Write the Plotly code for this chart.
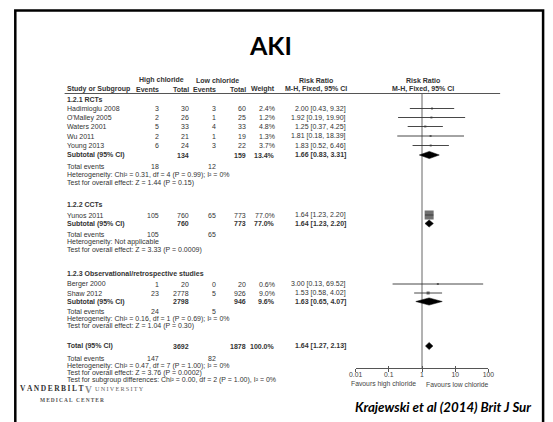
import plotly.graph_objects as go

W, H = 553, 422

# ---- study-level data ----
studies = ["Hadimioglu 2008", "O'Malley 2005", "Waters 2001", "Wu 2011", "Young 2013",
           "Yunos 2011", "Berger 2000", "Shaw 2012"]
study_group = [0, 0, 0, 0, 0, 1, 2, 2]
hi_events = [3, 2, 5, 2, 6, 105, 1, 23]
hi_total = [30, 26, 33, 21, 24, 760, 20, 2778]
lo_events = [3, 1, 4, 1, 3, 65, 0, 5]
lo_total = [60, 25, 33, 19, 22, 773, 20, 926]
weights = [2.4, 1.2, 4.8, 1.3, 3.7, 77.0, 0.6, 9.0]
rr = [2.00, 1.92, 1.25, 1.81, 1.83, 1.64, 3.00, 1.53]
rr_lo = [0.43, 0.19, 0.37, 0.18, 0.52, 1.23, 0.13, 0.58]
rr_hi = [9.32, 19.90, 4.25, 18.39, 6.46, 2.20, 69.52, 4.02]

# ---- subgroup data ----
groups = ["1.2.1 RCTs", "1.2.2 CCTs", "1.2.3 Observational/retrospective studies"]
sub_hi_total = [134, 760, 2798]
sub_lo_total = [159, 773, 946]
sub_weight = [13.4, 77.0, 9.6]
sub_rr = [1.66, 1.64, 1.63]
sub_lo = [0.83, 1.23, 0.65]
sub_hi = [3.31, 2.20, 4.07]
sub_hi_events = [18, 105, 24]
sub_lo_events = [12, 65, 5]
sub_het = ["Heterogeneity: Chi² = 0.31, df = 4 (P = 0.99); I² = 0%",
           "Heterogeneity: Not applicable",
           "Heterogeneity: Chi² = 0.16, df = 1 (P = 0.69); I² = 0%"]
sub_test = ["Test for overall effect: Z = 1.44 (P = 0.15)",
            "Test for overall effect: Z = 3.33 (P = 0.0009)",
            "Test for overall effect: Z = 1.04 (P = 0.30)"]

# ---- overall ----
total_hi_total, total_lo_total = 3692, 1878
total_rr, total_lo, total_hi = 1.64, 1.27, 2.13
total_hi_events, total_lo_events = 147, 82
total_het = "Heterogeneity: Chi² = 0.47, df = 7 (P = 1.00); I² = 0%"
total_test = "Test for overall effect: Z = 3.76 (P = 0.0002)"
subgroup_test = "Test for subgroup differences: Chi² = 0.00, df = 2 (P = 1.00), I² = 0%"

axis_ticks = [0.01, 0.1, 1, 10, 100]
axis_ticktext = ["0.01", "0.1", "1", "10", "100"]

# ---- layout (pixel rows / columns) ----
FONT = "Liberation Sans"
TXT = "#333333"
FS = 7
X_STUDY, X_HE, X_HT, X_LE, X_LT, X_W, X_RR = 59, 158, 188, 216, 247, 276, 349
X_RR_HEAD = 316
AXIS_Y = 368
group_header_y = [99, 204, 274]
study_y = [108.5, 117.5, 126.5, 136, 145.5, 215, 284, 293]
subtotal_y = [155, 223.5, 301.5]
sub_events_y = [166, 234, 311]
sub_het_y = [174.5, 242, 318.5]
sub_test_y = [183, 250, 326]
TOTAL_Y, TOTAL_EV_Y, TOTAL_HET_Y, TOTAL_TEST_Y, SUBGRP_Y = 346, 358, 365.5, 372.5, 379.5

THIN = "\u2009"
ann = []


def txt(x, y, s, anchor="left", bold=False, size=FS, color=TXT, family=FONT):
    ann.append(dict(x=x / W, y=y, xref="paper", yref="y", text=f"<b>{s}</b>" if bold else s,
                    showarrow=False, xanchor=anchor, yanchor="middle",
                    font=dict(family=family, size=size, color=color)))


def pct(v):
    return f"{v:.1f}%"


def ci(e, lo, hi):
    return f"{e:.2f} [{lo:.2f}, {hi:.2f}]"


def spaced(s):
    return THIN.join(s)


# headers
txt(158.5, 80, "High chloride", "center", True)
txt(216, 80, "Low chloride", "center", True)
txt(X_RR_HEAD, 80, "Risk Ratio", "center", True)
txt(426, 80, "Risk Ratio", "center", True)
txt(X_STUDY, 89, "Study or Subgroup", "left", True)
txt(X_HE, 89, "Events", "right", True)
txt(X_HT, 89, "Total", "right", True)
txt(X_LE, 89, "Events", "right", True)
txt(X_LT, 89, "Total", "right", True)
txt(X_W, 89, "Weight", "right", True)
txt(X_RR_HEAD, 89, "M-H, Fixed, 95% CI", "center", True)
txt(426, 89, "M-H, Fixed, 95% CI", "center", True)

# study rows
for i, name in enumerate(studies):
    y = study_y[i]
    txt(X_STUDY, y, name)
    txt(X_HE, y, str(hi_events[i]), "right")
    txt(X_HT, y, str(hi_total[i]), "right")
    txt(X_LE, y, str(lo_events[i]), "right")
    txt(X_LT, y, str(lo_total[i]), "right")
    txt(X_W, y, pct(weights[i]), "right")
    txt(X_RR, y, ci(rr[i], rr_lo[i], rr_hi[i]), "right")

# subgroup blocks
for g, gname in enumerate(groups):
    txt(X_STUDY, group_header_y[g], gname, "left", True)
    y = subtotal_y[g]
    txt(X_STUDY, y, "Subtotal (95% CI)", "left", True)
    txt(X_HT, y, str(sub_hi_total[g]), "right", True)
    txt(X_LT, y, str(sub_lo_total[g]), "right", True)
    txt(X_W, y, pct(sub_weight[g]), "right", True)
    txt(X_RR, y, ci(sub_rr[g], sub_lo[g], sub_hi[g]), "right", True)
    y = sub_events_y[g]
    txt(X_STUDY, y, "Total events")
    txt(X_HE, y, str(sub_hi_events[g]), "right")
    txt(X_LE, y, str(sub_lo_events[g]), "right")
    txt(X_STUDY, sub_het_y[g], sub_het[g])
    txt(X_STUDY, sub_test_y[g], sub_test[g])

# overall block
txt(X_STUDY, TOTAL_Y, "Total (95% CI)", "left", True)
txt(X_HT, TOTAL_Y, str(total_hi_total), "right", True)
txt(X_LT, TOTAL_Y, str(total_lo_total), "right", True)
txt(X_W, TOTAL_Y, pct(sum(sub_weight)), "right", True)
txt(X_RR, TOTAL_Y, ci(total_rr, total_lo, total_hi), "right", True)
txt(X_STUDY, TOTAL_EV_Y, "Total events")
txt(X_HE, TOTAL_EV_Y, str(total_hi_events), "right")
txt(X_LE, TOTAL_EV_Y, str(total_lo_events), "right")
txt(X_STUDY, TOTAL_HET_Y, total_het)
txt(X_STUDY, TOTAL_TEST_Y, total_test)
txt(X_STUDY, SUBGRP_Y, subgroup_test)

# axis captions
txt(386, 384, "Favours high chloride", "center", size=6.8, color="#444")
txt(461, 384, "Favours low chloride", "center", size=6.8, color="#444")

# slide title, citation and logo
txt(270, 45, "AKI", "center", True, size=25, color="#000", family="Lato")
ann.append(dict(x=446 / W, y=407, xref="paper", yref="y",
                text="<b><i>Krajewski et al (2014) Brit J Sur</i></b>", showarrow=False,
                xanchor="center", yanchor="middle",
                font=dict(family="Lato", size=13.3, color="#000")))
txt(11, 388, spaced("VANDERBILT"), "left", True, size=7.5, color="#333", family="Liberation Serif")
txt(83, 389.5, "V", "center", True, size=9.5, color="#8a8a8a", family="Liberation Serif")
txt(88, 388, spaced("UNIVERSITY"), "left", False, size=6.2, color="#666", family="Liberation Serif")
txt(32, 399.5, spaced("MEDICAL CENTER"), "left", True, size=5.4, color="#555", family="Liberation Serif")

fig = go.Figure()

# confidence interval whiskers for each study
wx, wy = [], []
for i in range(len(studies)):
    wx += [rr_lo[i], rr_hi[i], None]
    wy += [study_y[i], study_y[i], None]
fig.add_trace(go.Scatter(x=wx, y=wy, mode="lines", line=dict(color="#333", width=0.9),
                         hoverinfo="skip", showlegend=False))

# point estimates, square area proportional to weight
fig.add_trace(go.Scatter(
    x=rr, y=study_y, mode="markers", showlegend=False,
    marker=dict(symbol="square", color="#333333",
                size=[max(2.0, 9.0 * (w / max(weights)) ** 0.5) for w in weights],
                line=dict(width=0))))

# pooled estimates as diamonds
DH = 3.6
for e, lo, hi, y in list(zip(sub_rr, sub_lo, sub_hi, subtotal_y)) + [(total_rr, total_lo, total_hi, TOTAL_Y)]:
    fig.add_trace(go.Scatter(x=[lo, e, hi, e, lo], y=[y, y - DH, y, y + DH, y],
                             mode="lines", fill="toself", fillcolor="#000",
                             line=dict(color="#000", width=0.5),
                             hoverinfo="skip", showlegend=False))

shapes = [
    # slide frame
    dict(type="rect", xref="paper", yref="paper", x0=8.5 / W, x1=549 / W,
         y0=-0.1, y1=1 - 10.5 / H, line=dict(color="#000", width=2.5)),
    # header rule
    dict(type="line", xref="paper", yref="y", x0=X_STUDY / W, x1=505 / W, y0=93.5, y1=93.5,
         line=dict(color="#555", width=1)),
    # line of no effect
    dict(type="line", xref="x", yref="y", x0=1, x1=1, y0=93.5, y1=AXIS_Y,
         line=dict(color="#999", width=1.5), layer="below"),
]

axis_common = dict(type="log", range=[-2, 2], domain=[357 / W, 493 / W],
                   anchor="free", position=1 - AXIS_Y / H, showgrid=False, zeroline=False,
                   tickvals=axis_ticks, ticklen=2.5, tickcolor="#555", tickwidth=1)
fig.update_layout(
    width=W, height=H, margin=dict(l=0, r=0, t=0, b=0),
    paper_bgcolor="white", plot_bgcolor="rgba(0,0,0,0)",
    xaxis=dict(**axis_common, ticktext=axis_ticktext, ticks="inside",
               showline=True, linecolor="#555", linewidth=1,
               tickfont=dict(family=FONT, size=6.8, color="#444")),
    xaxis2=dict(**axis_common, overlaying="x", ticks="outside", showticklabels=False,
                showline=False),
    yaxis=dict(range=[H, 0], domain=[0, 1], visible=False, fixedrange=True),
    annotations=ann, shapes=shapes, showlegend=False,
)
# invisible trace so the secondary tick axis is drawn
fig.add_trace(go.Scatter(x=[1], y=[AXIS_Y], xaxis="x2", mode="markers",
                         marker=dict(opacity=0), hoverinfo="skip", showlegend=False))

fig.write_html("out.html")
